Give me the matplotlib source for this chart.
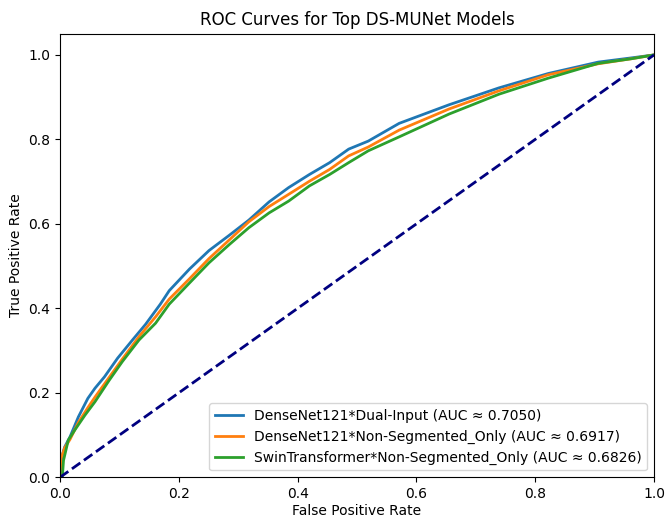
import matplotlib
matplotlib.use("Agg")
import matplotlib.pyplot as plt

labels = [
    "DenseNet121*Dual-Input (AUC \u2248 0.7050)",
    "DenseNet121*Non-Segmented_Only (AUC \u2248 0.6917)",
    "SwinTransformer*Non-Segmented_Only (AUC \u2248 0.6826)",
]
colors = ["#1f77b4", "#ff7f0e", "#2ca02c"]

fpr_blue = [0, .001, .003, .008, .017, .031, .047, .059, .075, .097, .122, .144, .169, .184,
            .218, .251, .285, .318, .352, .385, .420, .454, .486, .519, .571, .655, .739,
            .822, .906, .962, 1.0]
tpr_blue = [0, .03, .048, .072, .096, .143, .187, .211, .238, .282, .325, .362, .41, .442,
            .493, .537, .573, .609, .652, .686, .717, .745, .777, .796, .838, .882, .922,
            .956, .983, .993, 1.0]

fpr_orange = [0, .002, .008, .017, .031, .047, .059, .083, .105, .133, .161, .184, .218,
              .251, .285, .318, .352, .385, .420, .454, .486, .519, .571, .655, .739, .822,
              .906, .962, 1.0]
tpr_orange = [0, .045, .07, .09, .13, .165, .19, .237, .28, .333, .38, .422, .47, .518,
              .562, .605, .641, .670, .701, .729, .761, .782, .822, .872, .915, .953, .979,
              .991, 1.0]

fpr_green = [0, .004, .006, .014, .025, .042, .059, .083, .105, .133, .161, .184, .218,
             .251, .285, .318, .352, .385, .420, .454, .486, .519, .571, .655, .739, .822,
             .906, .962, 1.0]
tpr_green = [0, .0, .04, .088, .112, .147, .179, .230, .274, .325, .365, .41, .46, .508,
             .551, .591, .626, .654, .690, .717, .745, .773, .806, .860, .907, .945, .980,
             .991, 1.0]

fig = plt.figure(figsize=(6.66, 5.2), dpi=100)
ax = fig.add_axes([0.090, 0.082, 0.892, 0.853])

for fx, ty, lab, c in zip([fpr_blue, fpr_orange, fpr_green],
                          [tpr_blue, tpr_orange, tpr_green], labels, colors):
    ax.plot(fx, ty, color=c, lw=2, label=lab)
ax.plot([0, 1], [0, 1], color="navy", lw=2, linestyle="--")

ax.set_xlim(0.0, 1.0)
ax.set_ylim(0.0, 1.05)
ax.set_xlabel("False Positive Rate", labelpad=2)
ax.set_ylabel("True Positive Rate")
ax.set_title("ROC Curves for Top DS-MUNet Models")
ax.legend(loc="lower right")

fig.savefig("out.png", dpi=100)
